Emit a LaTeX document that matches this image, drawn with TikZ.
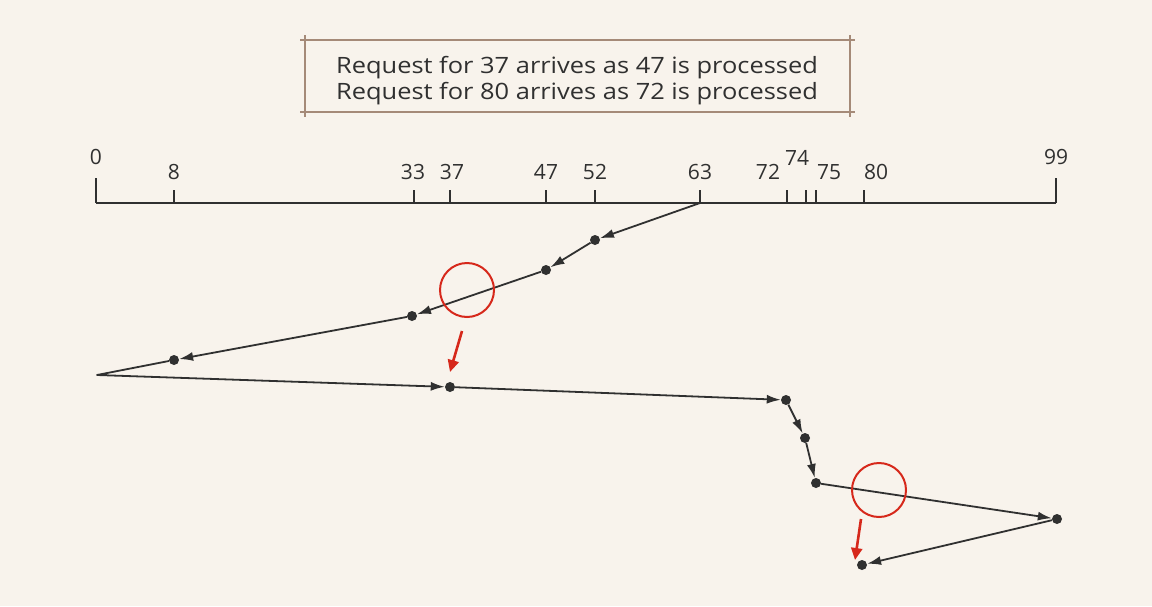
\documentclass[tikz,border=0pt]{standalone}
\usepackage{fontspec}
\setmainfont{Open Sans}
\newfontfamily\notefont[FakeStretch=1.13]{Open Sans}
\usetikzlibrary{arrows.meta}
\definecolor{paper}{HTML}{F8F3EC}
\definecolor{ink}{HTML}{303030}
\definecolor{alert}{HTML}{D6281B}
\definecolor{frame}{HTML}{A58A78}

\begin{document}
\begin{tikzpicture}[x=1pt,y=-1pt,
	dot/.style={circle,fill=ink,inner sep=0pt,minimum size=10pt},
	seek/.style={line width=1.8pt,color=ink,line join=round,-{Latex[length=14pt,width=9pt]}},
	num/.style={font=\fontsize{21}{25}\selectfont,text=ink},
	ring/.style={circle,draw=alert,line width=2pt,minimum size=54pt,inner sep=0pt},
	hint/.style={line width=2.6pt,color=alert,-{Triangle[length=12pt,width=11pt]}}]
	%%%%% START %%%%%
	
	\fill[paper] (0,0) rectangle (1152,606);
	
	% note box
	\draw[frame, line width=1.2pt] (300,40) -- (855,40);
	\draw[frame, line width=1.2pt] (300,112) -- (855,112);
	\draw[frame, line width=1.2pt] (305,35) -- (305,117);
	\draw[frame, line width=1.2pt] (850,35) -- (850,117);
	\node[text=ink, align=center, font=\notefont\fontsize{22.5}{26}\selectfont] (note) at (577,81)
		{Request for 37 arrives as 47 is processed\\Request for 80 arrives as 72 is processed};
	
	% cylinder axis
	\draw[ink, line width=1.6pt] (96,203) -- (1056,203);
	\draw[ink, line width=1.6pt] (96,178) -- (96,203);
	\draw[ink, line width=1.6pt] (1056,178) -- (1056,203);
	\node[num] (l0) at (96,157) {0};
	\node[num] (l99) at (1056,157) {99};
	\node[num] (l74) at (797,158) {74};
	\foreach \x/\lx/\v in {174/174/8, 414/413/33, 450/452/37, 546/546/47, 595/595/52,
		700/700/63, 787/768/72, 806/806/, 816/829/75, 864/876/80}{
		\draw[ink, line width=1.4pt] (\x,190) -- (\x,203);
		\node[num] at (\lx,172) {\v};
	}
	
	% head movement
	\coordinate (s63) at (700,203);
	\node[dot] (d52) at (595,240) {};
	\node[dot] (d47) at (546,270) {};
	\node[dot] (d33) at (412,316) {};
	\node[dot] (d8) at (174,360) {};
	\coordinate (turn) at (97,375);
	\node[dot] (d37) at (450,387) {};
	\node[dot] (d72) at (786,400) {};
	\node[dot] (d74) at (805,438) {};
	\node[dot] (d75) at (816,483) {};
	\node[dot] (d99) at (1057,519) {};
	\node[dot] (d80) at (862,565) {};
	
	\draw[seek] (s63) -- (d52);
	\draw[seek] (d52) -- (d47);
	\draw[seek] (d47) -- (d33);
	\draw[seek] (d33) -- (d8);
	\draw[seek] (d8) -- (turn) -- (d37);
	\draw[seek] (d37) -- (d72);
	\draw[seek] (d72) -- (d74);
	\draw[seek] (d74) -- (d75);
	\draw[seek] (d75) -- (d99);
	\draw[seek] (d99) -- (d80);
	
	% late requests
	\node[ring] (r37) at (467,290) {};
	\coordinate (h37a) at (462,331);
	\coordinate (h37b) at (450,372);
	\draw[hint] (h37a) -- (h37b);
	
	\node[ring] (r80) at (879,490) {};
	\coordinate (h80a) at (861,519);
	\coordinate (h80b) at (855,560);
	\draw[hint] (h80a) -- (h80b);
	
	%%%%% END %%%%%
\end{tikzpicture}
\end{document}
